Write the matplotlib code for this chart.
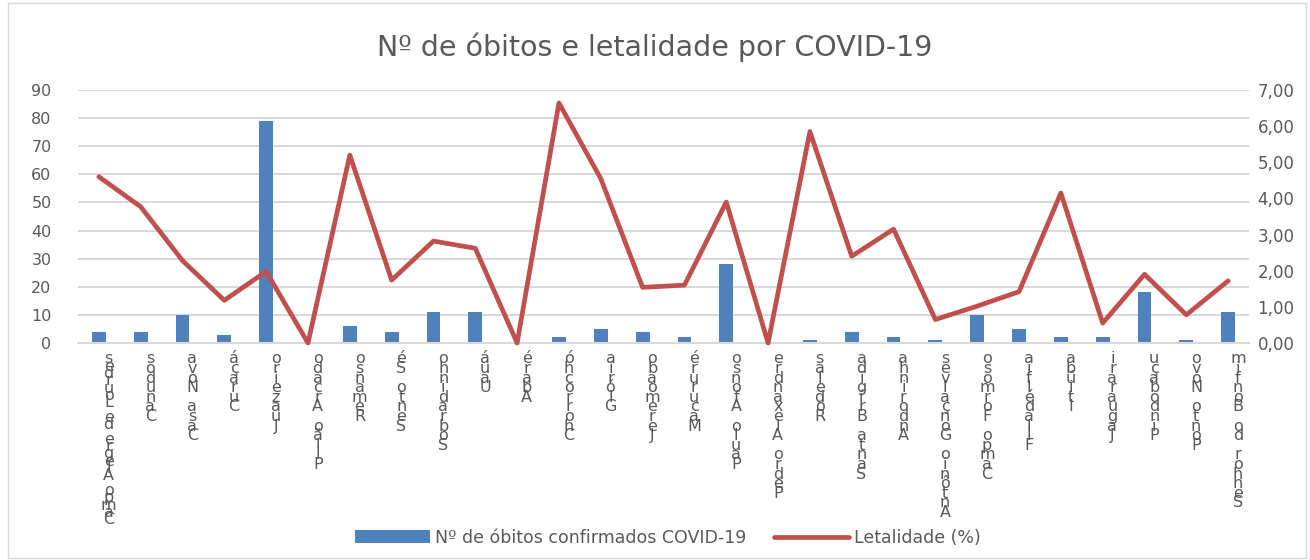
import matplotlib
matplotlib.use('Agg')
import matplotlib.pyplot as plt
import numpy as np
from matplotlib.patches import Rectangle, Patch
from matplotlib.lines import Line2D

# dados
municipios = ['Campo Alegre de Lourdes', 'Canudos', 'Casa Nova', 'Curaçá', 'Juazeiro',
              'Pilão Arcado', 'Remanso', 'Sento Sé', 'Sobradinho', 'Uauá', 'Abaré',
              'Chorrochó', 'Glória', 'Jeremoabo', 'Macururé', 'Paulo Afonso',
              'Pedro Alexandre', 'Rodelas', 'Santa Brígida', 'Andorinha',
              'Antônio Gonçalves', 'Campo Formoso', 'Filadélfia', 'Itiúba',
              'Jaguarari', 'Pindobaçu', 'Ponto Novo', 'Senhor do Bonfim']
obitos = [4, 4, 10, 3, 79, 0, 6, 4, 11, 11, 0, 2, 5, 4, 2, 28,
          0, 1, 4, 2, 1, 10, 5, 2, 2, 18, 1, 11]
letalidade = [4.60, 3.77, 2.28, 1.18, 1.98, 0.00, 5.20, 1.74, 2.82, 2.62, 0.00,
              6.64, 4.55, 1.54, 1.60, 3.90, 0.00, 5.85, 2.40, 3.15, 0.65,
              1.02, 1.42, 4.15, 0.55, 1.90, 0.78, 1.72]
esq_ticks = list(range(0, 91, 10))
dir_ticks = [0, 1, 2, 3, 4, 5, 6, 7]

titulo = 'Nº de óbitos e letalidade por COVID-19'
leg_barra = 'Nº de óbitos confirmados COVID-19'
leg_linha = 'Letalidade (%)'

cinza = '#595959'
azul = '#4F81BD'
vermelho = '#C0504D'
grade = '#D9D9D9'

plt.rcParams['font.family'] = ['DejaVu Sans']

fig = plt.figure(figsize=(13.1, 5.6), dpi=100)
ax = fig.add_axes([0.0595, 0.3875, 0.894, 0.4518])

x = np.arange(len(municipios))
ax.bar(x, obitos, width=0.33, color=azul, zorder=2)
ax.set_xlim(-0.5, len(municipios) - 0.5)
ax.set_ylim(0, 90)
ax.set_yticks(esq_ticks)
ax.set_axisbelow(True)
ax.grid(axis='y', color=grade, lw=1.5)
for s in ['top', 'left', 'right']:
    ax.spines[s].set_visible(False)
ax.spines['bottom'].set_color(grade)
ax.spines['bottom'].set_linewidth(1.5)
ax.set_xticks(x)
ax.set_xticklabels([])
ax.tick_params(axis='both', length=0, labelsize=11.5, colors=cinza)
ax.tick_params(axis='y', pad=19)

ax2 = ax.twinx()
ax2.plot(x, letalidade, color=vermelho, lw=3.4, solid_joinstyle='round',
         solid_capstyle='round', clip_on=False, zorder=3)
ax2.set_ylim(0, 7)
ax2.set_yticks(dir_ticks)
ax2.set_yticklabels([f'{v:.2f}'.replace('.', ',') for v in dir_ticks])
for s in ax2.spines.values():
    s.set_visible(False)
ax2.tick_params(axis='y', length=0, labelsize=12, colors=cinza, pad=6)

# rótulos empilhados, como no original
for i, nome in enumerate(municipios):
    ls = 0.36 if len(nome) > 20 else 0.55
    ax.annotate('\n'.join(reversed(nome)), xy=(i, 0),
                xycoords=('data', 'axes fraction'), xytext=(7, -6),
                textcoords='offset points', ha='center', va='top',
                fontsize=11.5, linespacing=ls, color=cinza)

fig.text(0.5, 0.915, titulo, ha='center', va='center', fontsize=20.5, color=cinza)

handles = [Patch(facecolor=azul, edgecolor='none'),
           Line2D([0], [0], color=vermelho, lw=3.4, solid_capstyle='round')]
fig.legend(handles, [leg_barra, leg_linha], loc='center', bbox_to_anchor=(0.51, 0.04),
           ncol=2, frameon=False, fontsize=12.5, handlelength=4.3, handletextpad=0.3,
           columnspacing=1.6, labelcolor=cinza)

fig.patches.append(Rectangle((0.006, 0.004), 0.991, 0.99, transform=fig.transFigure,
                             fill=False, edgecolor=grade, lw=1))

fig.savefig('out.png', dpi=100)
